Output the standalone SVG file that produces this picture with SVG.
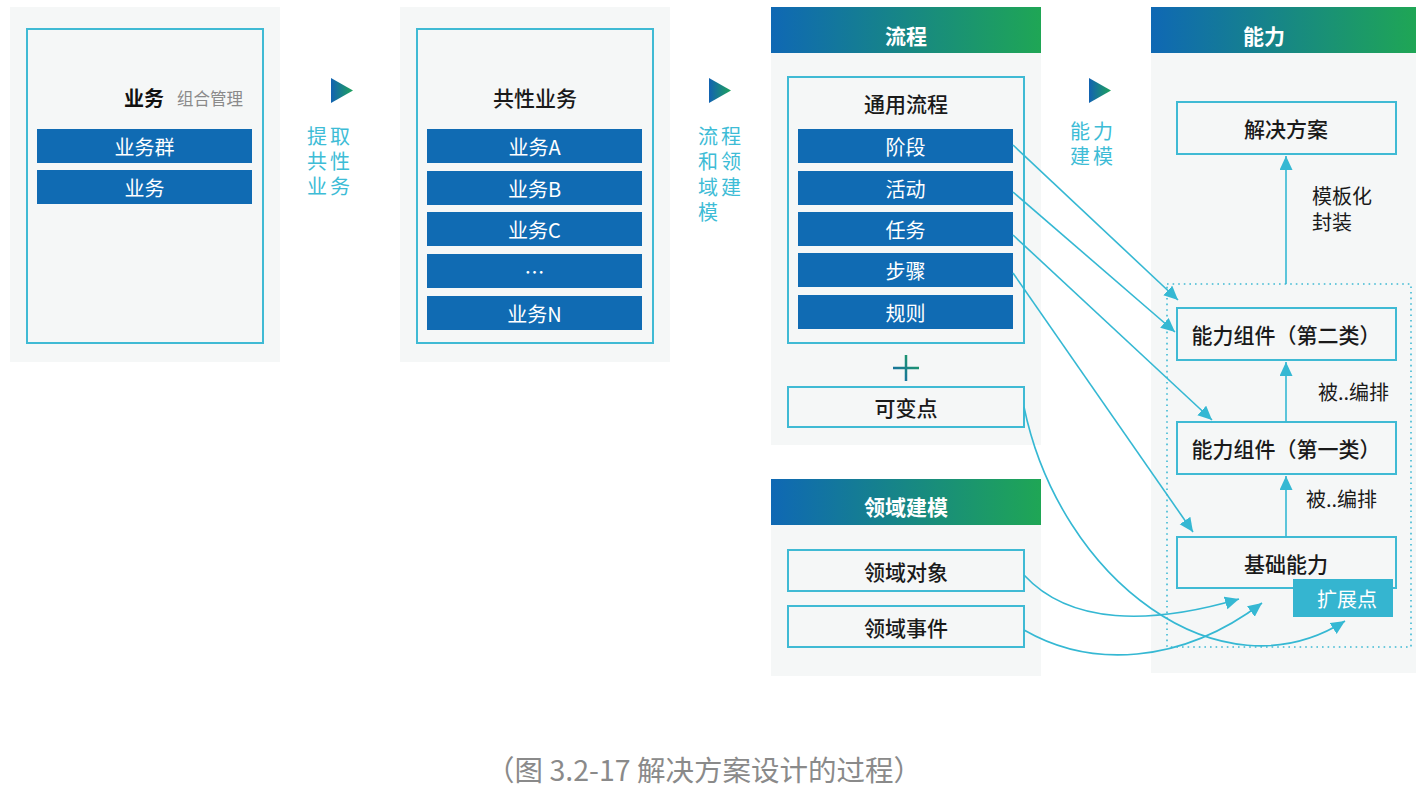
<svg xmlns="http://www.w3.org/2000/svg" width="1419" height="807" viewBox="0 0 1419 807">
<defs>
<linearGradient id="hg" x1="0" y1="0" x2="1" y2="0">
<stop offset="0" stop-color="#0f68b4"/><stop offset="1" stop-color="#1fa655"/>
</linearGradient>
<linearGradient id="tg" x1="0" y1="0" x2="1" y2="0">
<stop offset="0" stop-color="#1262b2"/><stop offset="1" stop-color="#1fa35c"/>
</linearGradient>
<linearGradient id="pg" x1="0" y1="1" x2="1" y2="0">
<stop offset="0" stop-color="#1565b0"/><stop offset="1" stop-color="#1fa35c"/>
</linearGradient>
<marker id="ah" markerUnits="userSpaceOnUse" markerWidth="16" markerHeight="14" refX="14" refY="6.5" orient="auto">
<path d="M0,0 L14,6.5 L0,13 z" fill="#35b8d3"/>
</marker>
<style>
.bg{fill:#f5f7f7}
.box{fill:#f5f7f7;stroke:#3fbad4;stroke-width:2}
.bar{fill:#106bb3}
.t{font-family:"Noto Sans CJK SC","Noto Sans",sans-serif;text-anchor:middle;dominant-baseline:central}
.bt{font-size:20px;fill:#ffffff}
.nt{font-size:21px;fill:#1a1a1a;font-weight:500}
.ht{font-size:21px;fill:#ffffff;font-weight:bold}
.side{font-family:"Noto Sans CJK SC","Noto Sans",sans-serif;font-size:20px;fill:#3dbcd6;letter-spacing:3px}
.lab{font-family:"Noto Sans CJK SC","Noto Sans",sans-serif;font-size:20px;fill:#1a1a1a}
.con{fill:none;stroke:#35b8d3;stroke-width:1.6}
</style>
</defs>

<g id="panel-business">
<rect class="bg" x="10" y="7" width="270" height="355"/>
<rect class="box" x="27" y="29" width="236" height="314"/>
<text x="124" y="97" font-family="'Noto Sans CJK SC',sans-serif" font-size="20" font-weight="bold" fill="#111" dominant-baseline="central">业务</text>
<text x="177" y="98" font-family="'Noto Sans CJK SC',sans-serif" font-size="16.5" fill="#8a8a8a" dominant-baseline="central">组合管理</text>
<rect class="bar" x="37" y="129" width="215" height="34"/>
<text class="t bt" x="144.5" y="146">业务群</text>
<rect class="bar" x="37" y="170" width="215" height="34"/>
<text class="t bt" x="144.5" y="187">业务</text>
</g>

<g id="step1">
<polygon points="331,78 353,90.5 331,103" fill="url(#tg)"/>
<text class="side" x="307" y="144">提取</text>
<text class="side" x="307" y="169">共性</text>
<text class="side" x="307" y="194">业务</text>
</g>

<g id="panel-common">
<rect class="bg" x="400" y="7" width="270" height="355"/>
<rect class="box" x="417" y="29" width="236" height="314"/>
<text class="t nt" x="535" y="97">共性业务</text>
<rect class="bar" x="427" y="129" width="215" height="34"/>
<text class="t bt" x="534.5" y="146">业务A</text>
<rect class="bar" x="427" y="171" width="215" height="34"/>
<text class="t bt" x="534.5" y="188">业务B</text>
<rect class="bar" x="427" y="212" width="215" height="34"/>
<text class="t bt" x="534.5" y="229">业务C</text>
<rect class="bar" x="427" y="254" width="215" height="34"/>
<text class="t bt" x="534.5" y="271">…</text>
<rect class="bar" x="427" y="296" width="215" height="34"/>
<text class="t bt" x="534.5" y="313">业务N</text>
</g>

<g id="step2">
<polygon points="709,78 731,90.5 709,103" fill="url(#tg)"/>
<text class="side" x="698" y="144">流程</text>
<text class="side" x="698" y="169">和领</text>
<text class="side" x="698" y="195">域建</text>
<text class="side" x="698" y="220">模</text>
</g>

<g id="panel-process">
<rect class="bg" x="771" y="53" width="270" height="392"/>
<rect x="771" y="7" width="270" height="46" fill="url(#hg)"/>
<text class="t ht" x="906" y="35">流程</text>
<rect class="box" x="788" y="77" width="236" height="266"/>
<text class="t nt" x="906" y="103">通用流程</text>
<rect class="bar" x="798" y="129" width="215" height="34"/>
<text class="t bt" x="905.5" y="146">阶段</text>
<rect class="bar" x="798" y="171" width="215" height="34"/>
<text class="t bt" x="905.5" y="188">活动</text>
<rect class="bar" x="798" y="212" width="215" height="34"/>
<text class="t bt" x="905.5" y="229">任务</text>
<rect class="bar" x="798" y="253" width="215" height="34"/>
<text class="t bt" x="905.5" y="270">步骤</text>
<rect class="bar" x="798" y="295" width="215" height="34"/>
<text class="t bt" x="905.5" y="312">规则</text>
<path d="M893,368 H919 M906,355 V381" stroke="url(#pg)" stroke-width="2.5" fill="none"/>
<rect class="box" x="788" y="387" width="236" height="40"/>
<text class="t nt" x="906" y="407">可变点</text>
</g>

<g id="step3">
<polygon points="1089,78 1111,90.5 1089,103" fill="url(#tg)"/>
<text class="side" x="1070" y="139">能力</text>
<text class="side" x="1070" y="164">建模</text>
</g>

<g id="panel-domain">
<rect class="bg" x="771" y="525" width="270" height="151"/>
<rect x="771" y="479" width="270" height="46" fill="url(#hg)"/>
<text class="t ht" x="906" y="506">领域建模</text>
<rect class="box" x="788" y="550" width="236" height="41"/>
<text class="t nt" x="906" y="571">领域对象</text>
<rect class="box" x="788" y="606" width="236" height="41"/>
<text class="t nt" x="906" y="627">领域事件</text>
</g>

<g id="panel-capability">
<rect class="bg" x="1151" y="53" width="265" height="620"/>
<rect x="1151" y="7" width="265" height="46" fill="url(#hg)"/>
<text class="t ht" x="1264" y="35">能力</text>
<rect x="1167" y="284" width="244" height="363" fill="none" stroke="#3fbad4" stroke-width="1.6" stroke-dasharray="1.6 4"/>
</g>

<g id="node-solution">
<rect class="box" x="1177" y="102" width="219" height="52"/>
<text class="t nt" x="1286" y="128">解决方案</text>
</g>
<g id="node-comp2">
<rect class="box" x="1177" y="308" width="219" height="52"/>
<text class="t nt" x="1286" y="334" font-size="20">能力组件（第二类）</text>
</g>
<g id="node-comp1">
<rect class="box" x="1177" y="422" width="219" height="52"/>
<text class="t nt" x="1286" y="448" font-size="20">能力组件（第一类）</text>
</g>
<g id="node-base">
<rect class="box" x="1177" y="537" width="219" height="51"/>
<text class="t nt" x="1286" y="563">基础能力</text>
</g>
<g id="node-ext">
<rect x="1293" y="579" width="100" height="38" fill="#35b5d0"/>
<text class="t bt" x="1347" y="598">扩展点</text>
</g>

<g id="labels">
<text class="lab" x="1312" y="204">模板化</text>
<text class="lab" x="1312" y="230">封装</text>
<text class="lab" x="1318" y="400">被..编排</text>
<text class="lab" x="1306" y="507">被..编排</text>
</g>

<g id="connectors">
<path class="con" d="M1286,284 V156" marker-end="url(#ah)"/>
<path class="con" d="M1286,422 V362" marker-end="url(#ah)"/>
<path class="con" d="M1286,537 V476" marker-end="url(#ah)"/>
<path class="con" d="M1013,145 L1178,300" marker-end="url(#ah)"/>
<path class="con" d="M1013,192 L1175,332" marker-end="url(#ah)"/>
<path class="con" d="M1013,235 L1212,420" marker-end="url(#ah)"/>
<path class="con" d="M1013,273 L1193,532" marker-end="url(#ah)"/>
<path class="con" d="M1024,407 C1060,580 1220,700 1345,621" marker-end="url(#ah)"/>
<path class="con" d="M1024,575 C1070,625 1150,625 1239,599" marker-end="url(#ah)"/>
<path class="con" d="M1024,630 C1090,668 1180,665 1262,603" marker-end="url(#ah)"/>
</g>

<text x="704" y="768" font-family="'Noto Sans CJK SC',sans-serif" font-size="28.5" fill="#8a8a8a" text-anchor="middle" dominant-baseline="central">（图 3.2-17 解决方案设计的过程）</text>
</svg>
